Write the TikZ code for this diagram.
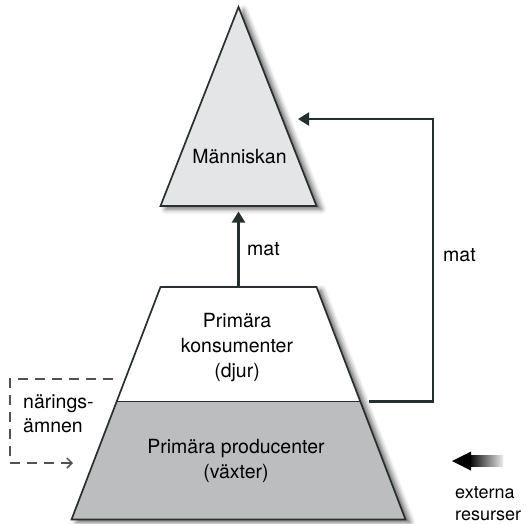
\documentclass[tikz,border=0pt]{standalone}
\usepackage{fontspec}
\setmainfont{TeX Gyre Heros}
\usetikzlibrary{arrows.meta,shadows.blur}

\definecolor{edgecol}{HTML}{263030}
\definecolor{linkcol}{HTML}{243030}
\definecolor{apexfill}{HTML}{E4E5E7}
\definecolor{prodfill}{HTML}{BCBDBF}
\definecolor{dashcol}{HTML}{4D5253}

\tikzset{
  lbl/.style={inner sep=0pt, font=\fontsize{19.5}{24.5}\selectfont, text=black},
  smalllbl/.style={lbl, font=\fontsize{18}{22}\selectfont},
  shapeline/.style={draw=edgecol, line width=1.7pt, line join=miter},
  softshadow/.style={blur shadow={shadow xshift=5pt, shadow yshift=-3pt,
      shadow blur radius=5pt, shadow opacity=60}},
  flow/.style={draw=linkcol, line width=2.2pt,
      -{Triangle[length=11pt, width=13pt]}},
  nutrient/.style={draw=dashcol, line width=1.5pt, dash pattern=on 10pt off 7pt,
      -{Straight Barb[length=5pt, width=10pt, line width=1.5pt]}},
}

\begin{document}
\begin{tikzpicture}[x=1pt, y=-1pt]
  \useasboundingbox (0,0) rectangle (526,523);

  % corner points of the two pyramids
  \coordinate (apex) at (238.5,7);
  \coordinate (hbl)  at (160.5,206);
  \coordinate (hbr)  at (316.5,206);
  \coordinate (hbase) at (238.5,206);

  \coordinate (ptl) at (160.5,287);
  \coordinate (ptr) at (316.5,287);
  \coordinate (pml) at (116.5,401.5);
  \coordinate (pmr) at (360.5,401.5);
  \coordinate (pbl) at (71.5,519.5);
  \coordinate (pbr) at (405.5,519.5);
  \coordinate (ptop) at (238.5,287);

  % human triangle
  \fill[apexfill, softshadow] (apex) -- (hbr) -- (hbl) -- cycle;
  \draw[shapeline] (apex) -- (hbr) -- (hbl) -- cycle;

  % lower pyramid: consumers (white) over producers (grey)
  \fill[white, softshadow] (ptl) -- (ptr) -- (pbr) -- (pbl) -- cycle;
  \fill[prodfill] (pml) -- (pmr) -- (pbr) -- (pbl) -- cycle;
  \draw[shapeline] (ptl) -- (ptr) -- (pbr) -- (pbl) -- cycle;
  \draw[shapeline] (pml) -- (pmr);

  % labels
  \node[lbl, anchor=base] (human) at (239.5,163) {Människan};
  \node[lbl, anchor=base] (cons1) at (237,327) {Primära};
  \node[lbl, anchor=base] (cons2) at (237,352) {konsumenter};
  \node[lbl, anchor=base] (cons3) at (237,377) {(djur)};
  \node[lbl, anchor=base] (prod1) at (236,453) {Primära producenter};
  \node[lbl, anchor=base] (prod2) at (236,478) {(växter)};
  \node[lbl, anchor=base west] (mat1) at (247,255) {mat};
  \node[lbl, anchor=base west] (mat2) at (443,261) {mat};
  \node[lbl, anchor=base west] (nut1) at (23,408) {närings-};
  \node[lbl, anchor=base west] (nut2) at (23,432) {ämnen};
  \node[smalllbl, anchor=base west] (ext1) at (455,498) {externa};
  \node[smalllbl, anchor=base west] (ext2) at (455,520) {resurser};

  % food from the consumers straight up to humans
  \draw[flow, shorten >=5.5pt] (ptop) -- (hbase);

  % food from the producers round the right side to humans
  \coordinate (fbstart) at (369,401.5);
  \coordinate (fbcorner1) at (433,401.5);
  \coordinate (fbcorner2) at (433,119);
  \coordinate (fbend) at (298,119);
  \draw[flow] (fbstart) -- (fbcorner1) -- (fbcorner2) -- (fbend);

  % nutrient cycle on the left
  \coordinate (nstart) at (113,379);
  \coordinate (ncorner1) at (10,379);
  \coordinate (ncorner2) at (10,463);
  \coordinate (nend) at (73,463);
  \draw[nutrient] (nstart) -- (ncorner1) -- (ncorner2) -- (nend);

  % external resources: fading shaft with a solid head
  \coordinate (extip) at (452,461);
  \shade[left color=black, right color=black!8]
    (469,455.5) rectangle (503,466.5);
  \fill[black] (extip) -- (471,451.5) -- (471,470.5) -- cycle;
\end{tikzpicture}
\end{document}
